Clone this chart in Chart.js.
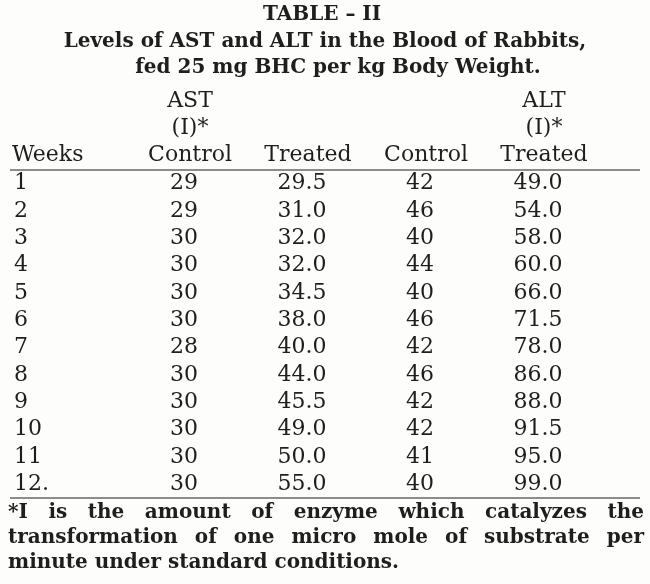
<!DOCTYPE html>
<html><head><meta charset="utf-8">
<script src="https://cdn.jsdelivr.net/npm/chart.js@4"></script>
<style>html,body{margin:0;padding:0;background:#fdfdfb}</style>
</head><body>
<canvas id="c" width="650" height="584"></canvas>
<script>
const weeks = ['1','2','3','4','5','6','7','8','9','10','11','12.'];
const columns = ['AST Control','AST Treated','ALT Control','ALT Treated'];
const astControl = ['29','29','30','30','30','30','28','30','30','30','30','30'];
const astTreated = ['29.5','31.0','32.0','32.0','34.5','38.0','40.0','44.0','45.5','49.0','50.0','55.0'];
const altControl = ['42','46','40','44','40','46','42','46','42','42','41','40'];
const altTreated = ['49.0','54.0','58.0','60.0','66.0','71.5','78.0','86.0','88.0','91.5','95.0','99.0'];
const series = [astControl, astTreated, altControl, altTreated];
const titleLines = ['TABLE – II','Levels of AST and ALT in the Blood of Rabbits,','fed 25 mg BHC per kg Body Weight.'];
const footLines = ['*I is the amount of enzyme which catalyzes the','transformation of one micro mole of substrate per','minute under standard conditions.'];

const INK = '#1e1e1e';
const SERIF = '"DejaVu Serif", serif';

function justify(ctx, text, x0, x1, y) {
  const words = text.split(' ');
  const total = words.reduce((s,w)=>s+ctx.measureText(w).width,0);
  const gap = (x1-x0-total)/(words.length-1);
  let x = x0;
  ctx.textAlign='left';
  words.forEach(w=>{ctx.fillText(w,x,y); x+=ctx.measureText(w).width+gap;});
}

const tablePlugin = {
  id:'tablePlugin',
  afterDatasetsDraw(chart){
    const ctx = chart.ctx, ca = chart.chartArea;
    ctx.save();
    ctx.fillStyle = INK; ctx.strokeStyle = INK;
    ctx.textBaseline = 'middle';
    ctx.font = '22px ' + SERIF; ctx.textAlign='center';
    chart.data.datasets.forEach((ds,di)=>{
      chart.getDatasetMeta(di).data.forEach((pt,i)=>{
        ctx.fillText(ds.values[i], pt.x - 6, pt.y);
      });
    });
    ctx.font = 'bold 20px ' + SERIF;
    ctx.fillText(titleLines[0], 322, 15);
    ctx.fillText(titleLines[1], 325, 42);
    ctx.fillText(titleLines[2], 338, 68);
    const xs = chart.scales.x;
    ctx.font = '22px ' + SERIF;
    ctx.fillText('AST', xs.getPixelForValue(0), 101);
    ctx.fillText('(I)*', xs.getPixelForValue(0), 128);
    ctx.fillText('ALT', xs.getPixelForValue(3), 101);
    ctx.fillText('(I)*', xs.getPixelForValue(3), 128);
    ['Control','Treated','Control','Treated'].forEach((h,i)=>ctx.fillText(h, xs.getPixelForValue(i), 155));
    ctx.textAlign='left';
    ctx.fillText('Weeks', 12, 155);
    ctx.lineWidth = 1.2;
    ctx.beginPath(); ctx.moveTo(10, ca.top); ctx.lineTo(640, ca.top);
    ctx.moveTo(10, ca.bottom); ctx.lineTo(640, ca.bottom); ctx.stroke();
    ctx.font = '600 20px ' + SERIF;
    justify(ctx, footLines[0], 8, 644, 513);
    justify(ctx, footLines[1], 8, 644, 538);
    ctx.textAlign='left';
    ctx.fillText(footLines[2], 8, 563);
    ctx.restore();
  }
};

new Chart(document.getElementById('c'), {
  type:'scatter',
  data:{
    datasets: series.map((vals,ci)=>({
      label: columns[ci],
      values: vals,
      data: weeks.map(w=>({x: columns[ci], y: w})),
      pointRadius: 0, showLine:false
    }))
  },
  options:{
    responsive:false, animation:false,
    layout:{padding:{top:170, bottom:86, left:14, right:47}},
    plugins:{legend:{display:false}, tooltip:{enabled:false}},
    scales:{
      x:{type:'category', labels: columns, offset:true, display:false},
      y:{type:'category', labels: weeks, offset:true,
         grid:{display:false}, border:{display:false},
         afterFit(s){ s.width = 117; },
         ticks:{color:INK, font:{family:SERIF, size:22}, crossAlign:'far', padding:0, autoSkip:false}}
    }
  },
  plugins:[tablePlugin]
});
</script>
</body></html>
